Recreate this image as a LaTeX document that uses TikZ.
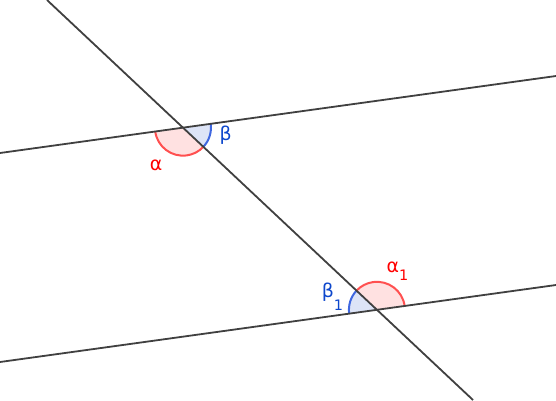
\documentclass[tikz,border=0pt]{standalone}
\usepackage{fontspec}
\setmainfont{DejaVu Sans}
\usetikzlibrary{intersections}
\definecolor{linegray}{HTML}{404040}
\definecolor{angred}{HTML}{FF5050}
\definecolor{angredfill}{HTML}{FFE1E1}
\definecolor{labred}{HTML}{FF0000}
\definecolor{angblue}{HTML}{3F67E0}
\definecolor{angbluefill}{HTML}{DDE4F7}
\definecolor{labblue}{HTML}{0D47CC}
\newcommand\subfnt{\fontsize{14.5}{16}\selectfont}
\begin{document}
\begin{tikzpicture}[x=1bp,y=1bp,
  geoline/.style={draw=linegray,line width=1.8bp},
  arcline/.style={line width=2bp},
  lab/.style={inner sep=0pt,font=\fontsize{19}{22}\selectfont}]
\useasboundingbox (0,0) rectangle (556,400);
\coordinate (A1) at (0,247);
\coordinate (A2) at (556,324);
\coordinate (B1) at (0,38);
\coordinate (B2) at (556,115);
\coordinate (T1) at (47,400);
\coordinate (T2) at (473,0);
\path[name path=up] (A1) -- (A2);
\path[name path=lo] (B1) -- (B2);
\path[name path=tr] (T1) -- (T2);
\path[name intersections={of=up and tr,by=P}];
\path[name intersections={of=lo and tr,by=Q}];
% sectors
\fill[angredfill] (P) -- ++(187.88:28) arc[start angle=187.88,end angle=316.8,radius=28] -- cycle;
\draw[angred,arcline] ([shift={(187.88:28)}]P) arc[start angle=187.88,end angle=316.8,radius=28];
\fill[angbluefill] (P) -- ++(-43.2:28) arc[start angle=-43.2,end angle=7.88,radius=28] -- cycle;
\draw[angblue,arcline] ([shift={(-43.2:28)}]P) arc[start angle=-43.2,end angle=7.88,radius=28];
\fill[angredfill] (Q) -- ++(7.88:28) arc[start angle=7.88,end angle=136.8,radius=28] -- cycle;
\draw[angred,arcline] ([shift={(7.88:28)}]Q) arc[start angle=7.88,end angle=136.8,radius=28];
\fill[angbluefill] (Q) -- ++(136.8:28) arc[start angle=136.8,end angle=187.88,radius=28] -- cycle;
\draw[angblue,arcline] ([shift={(136.8:28)}]Q) arc[start angle=136.8,end angle=187.88,radius=28];
% lines
\draw[geoline] (A1) -- (A2);
\draw[geoline] (B1) -- (B2);
\draw[geoline] (T1) -- (T2);
% labels
\node[lab,text=labred] (alpha) at (156,235) {α};
\node[lab,text=labblue] (beta) at (225.6,265) {β};
\node[lab,text=labred] (alpha1) at (397.5,129.2) {α\raisebox{-8bp}{\subfnt 1}};
\node[lab,text=labblue] (beta1) at (332.5,103.2) {β\raisebox{-13bp}{\subfnt 1}};
\end{tikzpicture}
\end{document}
